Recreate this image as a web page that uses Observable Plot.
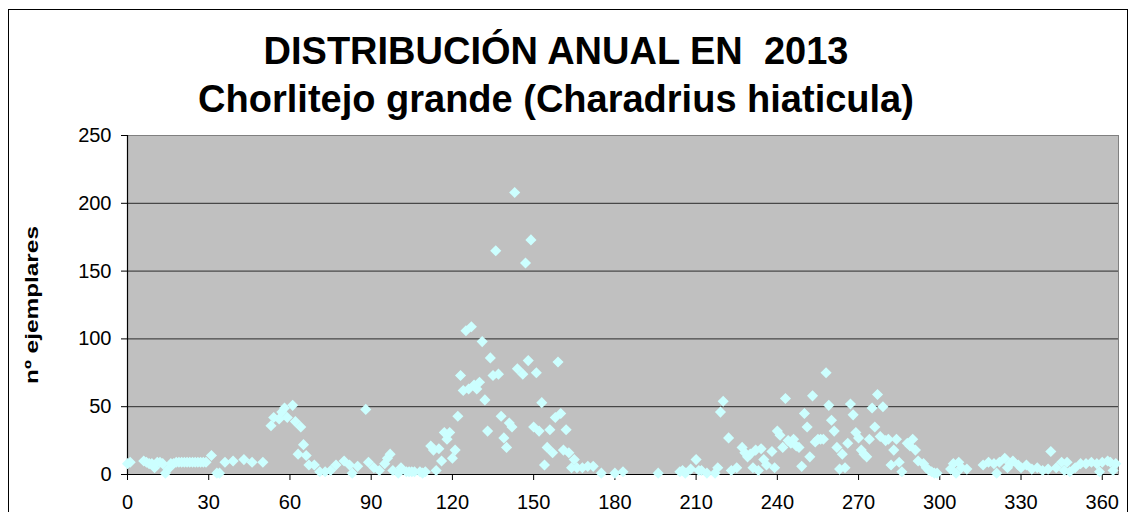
<!DOCTYPE html>
<html>
<head>
<meta charset="utf-8">
<script src="https://cdn.jsdelivr.net/npm/d3@7"></script>
<script src="https://cdn.jsdelivr.net/npm/@observablehq/plot@0.6"></script>
<style>
  html, body { margin: 0; padding: 0; background: #fff; }
  #wrap { position: relative; width: 1134px; height: 512px; overflow: hidden; font-family: "Liberation Sans", Arial, sans-serif; }
  #border { position: absolute; left: 8px; top: 9px; width: 1120px; height: 540px; border: 1px solid #000; box-sizing: border-box; }
  #title { position: absolute; left: 0; top: 27px; width: 1112px; text-align: center; font-weight: bold; font-size: 38px; line-height: 48px; color: #000; }
  #chart { position: absolute; left: 0; top: 122px; }
</style>
</head>
<body>
<div id="wrap">
  <div id="border"></div>
  <div id="title">DISTRIBUCIÓN ANUAL EN&nbsp;&nbsp;2013<br>Chorlitejo grande (Charadrius hiaticula)</div>
  <div id="chart"></div>
</div>
<script>
const days = [0,1,6,7,8,9,10,11,12,13,14,15,16,17,18,19,20,21,22,23,24,25,26,27,28,29,31,33,34,36,39,43,46,50,
  53,54,56,57,58,59,61,62,63,64,65,66,67,69,71,73,75,77,80,82,83,85,88,89,91,93,95,96,97,98,100,101,103,104,105,106,108,109,110,
  112,113,114,115,116,117,118,119,120,121,122,123,124,125,126,127,128,129,130,131,132,133,134,135,136,137,138,139,140,141,142,143,144,146,147,148,149,150,
  151,152,153,154,155,156,157,158,159,160,161,162,163,164,165,166,168,170,172,175,180,183,196,204,205,206,208,210,211,212,214,217,218,219,220,222,223,225,
  227,228,229,230,231,232,233,234,235,236,238,239,240,241,242,243,244,245,246,247,248,249,250,251,252,253,254,255,256,257,258,259,260,261,262,263,264,265,
  266,267,268,269,270,271,272,273,274,275,276,277,278,279,280,281,282,283,284,285,286,288,289,290,291,292,294,295,296,297,298,299,
  304,305,306,307,308,310,316,318,320,321,322,324,325,326,327,329,330,332,334,336,338,340,341,343,345,346,347,348,350,352,354,356,358,359,360,362,363,364,365];
const counts = [8,9,10,9,8,8,5,9,9,8,1,4,8,8,9,9,9,9,9,9,9,9,9,9,9,9,14,1,1,9,10,11,9,9,
  36,42,41,46,49,42,51,39,15,35,22,14,7,7,2,2,3,7,10,7,1,6,48,9,5,3,8,12,15,3,1,5,2,2,2,2,2,1,2,
  21,18,3,19,10,31,26,31,12,18,43,73,62,106,63,109,66,63,68,98,55,32,86,73,165,74,43,27,20,38,35,208,78,74,156,84,173,35,
  75,32,53,7,20,33,16,42,83,45,18,33,16,5,11,5,5,6,6,1,1,2,1,2,3,1,4,11,3,3,1,1,5,46,54,27,3,5,
  20,16,13,15,5,18,3,19,11,7,17,5,32,29,20,56,25,23,26,21,20,6,45,35,13,58,24,26,26,26,75,51,40,32,20,4,15,5,
  23,52,44,31,27,18,15,13,26,49,35,59,28,50,25,26,7,18,26,9,2,23,21,26,18,10,8,5,3,2,1,1,
  4,8,1,9,5,4,7,9,8,1,9,12,5,8,10,7,5,7,4,5,3,4,17,5,9,3,9,2,5,8,8,9,8,2,9,10,9,3,8];
const xTicks = [0,30,60,90,120,150,180,210,240,270,300,330,360];
const yTicks = [0,50,100,150,200,250];
const yLabel = "nº ejemplares";

const data = days.map((d, i) => ({day: d, n: counts[i]}));

const chart = Plot.plot({
  width: 1134,
  height: 390,
  marginTop: 13,
  marginBottom: 38,
  marginLeft: 127,
  marginRight: 16,
  x: {domain: [0, 366]},
  y: {domain: [0, 250]},
  style: {fontFamily: "'Liberation Sans', Arial, sans-serif", fontSize: "20px", color: "#000", background: "transparent", overflow: "visible"},
  marks: [
    Plot.frame({fill: "#c0c0c0", stroke: "#808080"}),
    Plot.ruleY(yTicks.filter(d => d > 0 && d < 250), {stroke: "#2a2a2a", strokeWidth: 1}),
    Plot.axisX({ticks: xTicks, tickSize: 6, tickPadding: 14, label: null, tickFormat: d => String(d), stroke: "#000"}),
    Plot.axisY({ticks: yTicks, tickSize: 6, tickPadding: 10, label: null, stroke: "#000"}),
    Plot.ruleX([0], {stroke: "#000", strokeWidth: 1.2}),
    Plot.ruleY([0], {stroke: "#000", strokeWidth: 1.2}),
    Plot.dot(data, {x: "day", y: "n", symbol: "diamond2", r: 5, fill: "#ccffff", stroke: "none"}),
    Plot.text([yLabel], {text: d => d, frameAnchor: "left", dx: -96, rotate: -90, textAnchor: "middle", lineAnchor: "middle", fontWeight: "bold", fontSize: 19, fill: "#000", className: "ylab"})
  ]
});
document.getElementById("chart").appendChild(chart);
chart.querySelectorAll(".ylab text").forEach(t => {
  const len = t.getComputedTextLength();
  const s = len > 0 ? 158 / len : 1.28;
  t.setAttribute("transform", (t.getAttribute("transform") || "") + ` scale(${s.toFixed(3)},1)`);
});
</script>
</body>
</html>
